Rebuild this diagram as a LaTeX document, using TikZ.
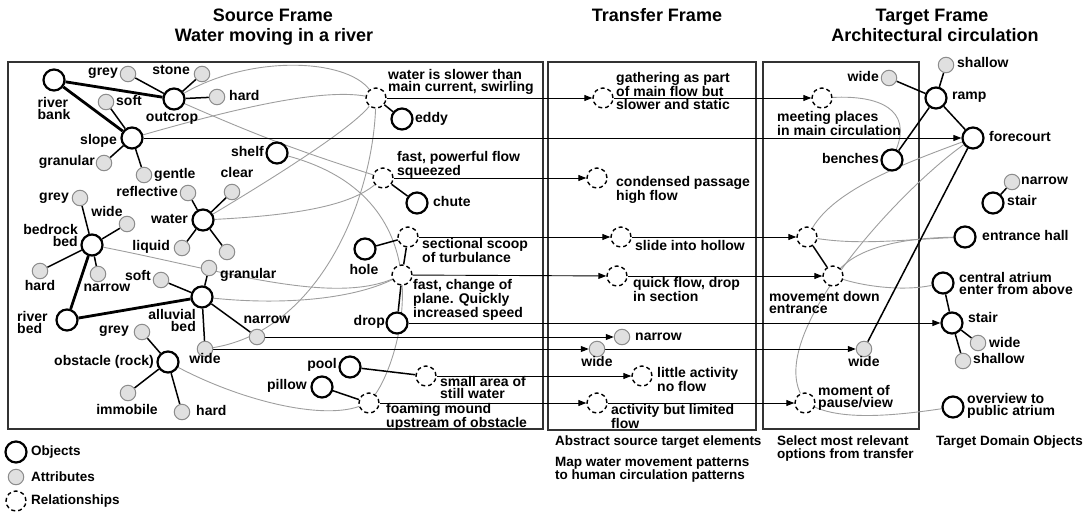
\documentclass[tikz,border=0pt]{standalone}
\usepackage{fontspec}
\setmainfont{Liberation Sans}
\usetikzlibrary{arrows.meta}
\pgfdeclarelayer{farback}
\pgfdeclarelayer{back}
\pgfsetlayers{farback,back,main}

\newcommand{\lblf}{\fontsize{14}{12.6}\selectfont\bfseries}
\newcommand{\titlef}{\fontsize{18}{20}\selectfont\bfseries}
\newcommand{\captf}{\fontsize{13.5}{12.6}\selectfont\bfseries}

\tikzset{
  obj/.style={circle, draw=black, line width=2.2pt, fill=white, minimum size=21pt, inner sep=0pt},
  attr/.style={circle, draw=black!45, line width=1pt, fill=black!12, minimum size=15.5pt, inner sep=0pt},
  rel/.style={circle, draw=black, line width=1.4pt, dash pattern=on 4pt off 3pt, fill=white, minimum size=20pt, inner sep=0pt},
  lbl/.style={font=\lblf, inner sep=0pt, text height=10pt, text depth=3pt},
  mlbl/.style={font=\lblf, inner sep=0pt, align=left},
  capt/.style={font=\captf, inner sep=0pt, align=left},
  ttl/.style={font=\titlef, inner sep=0pt, text height=13pt, text depth=4pt},
  strong/.style={line width=2.8pt, black},
  tie/.style={line width=1.5pt, black},
  assoc/.style={line width=0.9pt, black!38},
  flow/.style={line width=0.9pt, black, -{Triangle[length=8pt,width=6pt]}},
  framebox/.style={draw=black!80, line width=1.2pt}
}

\begin{document}
\begin{tikzpicture}[x=1pt,y=-1pt]
\useasboundingbox (0,0) rectangle (1083,514);

% ---------- titles
\node[ttl] (tsrc1) at (273,17) {Source Frame};
\node[ttl] (tsrc2) at (274,37) {Water moving in a river};
\node[ttl] (ttr) at (657,17) {Transfer Frame};
\node[ttl] (ttg1) at (932,17) {Target Frame};
\node[ttl] (ttg2) at (935,37) {Architectural circulation};

% ---------- source frame: objects, attributes, relationships
\node[obj] (riverbank) at (54,80) {};
\node[obj] (outcrop) at (174,99) {};
\node[attr] (ogrey) at (128,74) {};
\node[attr] (ostone) at (202,74) {};
\node[attr] (ohard) at (217,97) {};
\node[attr] (ssoft) at (106,102) {};
\node[obj] (slope) at (132,138) {};
\node[attr] (sgran) at (104,163) {};
\node[attr] (sgentle) at (144,175) {};
\node[obj] (shelf) at (277,153) {};
\node[obj] (water) at (203,220) {};
\node[attr] (wrefl) at (188,193) {};
\node[attr] (wclear) at (232,192) {};
\node[attr] (wliquid) at (182,248) {};
\node[attr] (wx) at (227,252) {};
\node[obj] (bedrock) at (92,245) {};
\node[attr] (bgrey) at (80,198) {};
\node[attr] (bwide) at (127,224) {};
\node[attr] (bhard) at (40,271) {};
\node[attr] (bnarrow) at (98,274) {};
\node[obj] (riverbed) at (67,320) {};
\node[obj] (alluvial) at (202,297) {};
\node[attr] (asoft) at (161,280) {};
\node[attr] (agran) at (209,268) {};
\node[attr] (anarrow) at (257,337) {};
\node[attr] (awide) at (205,349) {};
\node[obj] (obstacle) at (168,362) {};
\node[attr] (ogrey2) at (142,332) {};
\node[attr] (oimm) at (128,393) {};
\node[attr] (ohard2) at (182,412) {};
\node[obj] (pool) at (350,367) {};
\node[obj] (pillow) at (322,387) {};
\node[rel] (smallrel) at (426,376) {};
\node[rel] (foamrel) at (369,403) {};
\node[obj] (drop) at (397,323) {};
\node[obj] (hole) at (365,249) {};
\node[rel] (sectrel) at (408,237) {};
\node[rel] (fastchg) at (402,275) {};
\node[obj] (chute) at (417,203) {};
\node[rel] (fastpow) at (383,178) {};
\node[obj] (eddy) at (402,119) {};
\node[rel] (slower) at (376,98) {};

% source labels
\node[mlbl,anchor=north] (riverbankL) at (54,97) {river\\bank};
\node[lbl] (outcropL) at (172,118) {outcrop};
\node[lbl,anchor=east] (ogreyL) at (118,72) {grey};
\node[lbl,anchor=east] (ostoneL) at (190,71) {stone};
\node[lbl,anchor=west] (ohardL) at (229,97) {hard};
\node[lbl,anchor=west] (ssoftL) at (116,102) {soft};
\node[lbl,anchor=east] (slopeL) at (117,141) {slope};
\node[lbl,anchor=east] (sgranL) at (95,162) {granular};
\node[lbl,anchor=west] (sgentleL) at (154,175) {gentle};
\node[lbl,anchor=east] (shelfL) at (264,153) {shelf};
\node[lbl,anchor=east] (waterL) at (188,220) {water};
\node[lbl,anchor=east] (wreflL) at (178,193) {reflective};
\node[lbl] (wclearL) at (237,174) {clear};
\node[lbl,anchor=east] (wliquidL) at (170,247) {liquid};
\node[mlbl,anchor=north east,align=right] (bedrockL) at (78,224) {bedrock\\bed};
\node[lbl,anchor=east] (bgreyL) at (69,197) {grey};
\node[lbl] (bwideL) at (107,213) {wide};
\node[lbl] (bhardL) at (40,287) {hard};
\node[lbl] (bnarrowL) at (107,288) {narrow};
\node[mlbl,anchor=north west] (riverbedL) at (17,311) {river\\bed};
\node[mlbl,anchor=north east,align=right] (alluvialL) at (196,309) {alluvial\\bed};
\node[lbl,anchor=east] (asoftL) at (151,277) {soft};
\node[lbl,anchor=west] (agranL) at (220,275) {granular};
\node[lbl] (anarrowL) at (267,320) {narrow};
\node[lbl] (awideL) at (205,360) {wide};
\node[lbl,anchor=east] (obstacleL) at (154,362) {obstacle (rock)};
\node[lbl,anchor=east] (ogrey2L) at (129,330) {grey};
\node[lbl] (oimmL) at (127,411) {immobile};
\node[lbl,anchor=west] (ohard2L) at (196,412) {hard};
\node[lbl,anchor=east] (poolL) at (337,365) {pool};
\node[lbl,anchor=east] (pillowL) at (307,386) {pillow};
\node[mlbl,anchor=north west] (smallL) at (440,376) {small area of\\still water};
\node[mlbl,anchor=north west] (foamL) at (386,403) {foaming mound\\upstream of obstacle};
\node[lbl,anchor=east] (dropL) at (385,322) {drop};
\node[lbl] (holeL) at (364,271) {hole};
\node[mlbl,anchor=north west] (sectL) at (422,238) {sectional scoop\\of turbulance};
\node[mlbl,anchor=north west] (fastchgL) at (413,279) {fast, change of\\plane. Quickly\\increased speed};
\node[lbl,anchor=west] (chuteL) at (433,203) {chute};
\node[mlbl,anchor=north west] (fastpowL) at (397,151) {fast, powerful flow\\squeezed};
\node[lbl,anchor=west] (eddyL) at (415,119) {eddy};
\node[mlbl,anchor=north west] (slowerL) at (388,69) {water is slower than\\main current, swirling};

% ---------- transfer frame
\node[rel] (gather) at (603,98) {};
\node[rel] (condensed) at (597,178) {};
\node[rel] (slide) at (621,237) {};
\node[rel] (quick) at (617,276) {};
\node[attr] (tnarrow) at (622,337) {};
\node[attr] (twide) at (597,349) {};
\node[rel] (little) at (642,376) {};
\node[rel] (limited) at (597,403) {};

\node[mlbl,anchor=north west] (gatherL) at (616,72) {gathering as part\\of main flow but\\slower and static};
\node[mlbl,anchor=north west] (condL) at (616,176) {condensed passage\\high flow};
\node[lbl,anchor=west] (slideL) at (635,247) {slide into hollow};
\node[mlbl,anchor=north west] (quickL) at (633,277) {quick flow, drop\\in section};
\node[lbl,anchor=west] (tnarrowL) at (635,337) {narrow};
\node[lbl] (twideL) at (597,363) {wide};
\node[mlbl,anchor=north west] (littleL) at (657,367) {little activity\\no flow};
\node[mlbl,anchor=north west] (limitedL) at (611,404) {activity but limited\\flow};

% ---------- target frame
\node[rel] (meeting) at (822,98) {};
\node[attr] (rwide) at (889,78) {};
\node[attr] (rshallow) at (946,65) {};
\node[obj] (ramp) at (936,98) {};
\node[obj] (forecourt) at (973,138) {};
\node[obj] (benches) at (892,160) {};
\node[attr] (snarrow) at (1012,182) {};
\node[obj] (stair1) at (993,203) {};
\node[rel] (intohall) at (807,237) {};
\node[rel] (movement) at (833,276) {};
\node[obj] (entrance) at (965,237) {};
\node[obj] (central) at (943,283) {};
\node[obj] (stair2) at (952,323) {};
\node[attr] (s2wide) at (978,343) {};
\node[attr] (s2shallow) at (963,361) {};
\node[attr] (gwide) at (864,349) {};
\node[rel] (moment) at (805,403) {};
\node[obj] (overview) at (953,407) {};

\node[mlbl,anchor=north west] (meetL) at (777,111) {meeting places\\in main circulation};
\node[lbl,anchor=east] (rwideL) at (879,78) {wide};
\node[lbl,anchor=west] (rshallowL) at (957,64) {shallow};
\node[lbl,anchor=west] (rampL) at (952,96) {ramp};
\node[lbl,anchor=west] (forecourtL) at (989,138) {forecourt};
\node[lbl,anchor=east] (benchesL) at (879,160) {benches};
\node[lbl,anchor=west] (snarrowL) at (1021,181) {narrow};
\node[lbl,anchor=west] (stair1L) at (1007,202) {stair};
\node[mlbl,anchor=north west] (moveL) at (769,291) {movement down\\entrance};
\node[lbl,anchor=west] (entranceL) at (982,237) {entrance hall};
\node[mlbl,anchor=north west] (centralL) at (959,272) {central atrium\\enter from above};
\node[lbl,anchor=west] (stair2L) at (968,319) {stair};
\node[lbl,anchor=west] (s2wideL) at (989,344) {wide};
\node[lbl,anchor=west] (s2shallowL) at (973,360) {shallow};
\node[lbl] (gwideL) at (864,363) {wide};
\node[mlbl,anchor=north west] (momentL) at (818,385) {moment of\\pause/view};
\node[mlbl,anchor=north west] (overviewL) at (967,393) {overview to\\public atrium};

% ---------- captions and legend
\node[capt,anchor=north west] (capA) at (555,436) {Abstract source target elements};
\node[capt,anchor=north west] (capB) at (555,457) {Map water movement patterns\\to human circulation patterns};
\node[capt,anchor=north west] (capC) at (777,436) {Select most relevant\\options from transfer};
\node[capt,anchor=north west] (capD) at (936,436) {Target Domain Objects};

\node[obj] (legO) at (16,452) {};
\node[attr] (legA) at (16,477) {};
\node[rel] (legR) at (16,501) {};
\node[capt,anchor=west] (legOL) at (31,452) {Objects};
\node[capt,anchor=west] (legAL) at (31,477) {Attributes};
\node[capt,anchor=west] (legRL) at (31,501) {Relationships};

% ---------- frames and associations (grey)
\begin{pgfonlayer}{farback}
  \draw[framebox] (8,62) rectangle (543,429);
  \draw[framebox] (548,62) rectangle (756,430);
  \draw[framebox] (763,62) rectangle (919,429);

  \draw[assoc] (outcrop) .. controls (250,55) and (345,58) .. (slower);
  \draw[assoc] (slope) .. controls (230,110) and (320,88) .. (slower);
  \draw[assoc] (outcrop) to[bend right=3] (fastpow);
  \draw[assoc] (water) .. controls (270,180) and (350,130) .. (slower);
  \draw[assoc] (water) .. controls (300,215) and (350,205) .. (fastpow);
  \draw[assoc] (slower) .. controls (372,200) and (320,330) .. (awide);
  \draw[assoc] (shelf) .. controls (450,200) and (400,360) .. (foamrel);
  \draw[assoc] (obstacle) .. controls (240,400) and (320,420) .. (foamrel);
  \draw[assoc] (bedrock) .. controls (220,270) and (330,305) .. (fastchg);
  \draw[assoc] (alluvial) .. controls (280,305) and (350,300) .. (fastchg);

  \draw[assoc] (meeting) .. controls (880,95) and (912,110) .. (benches);
  \draw[assoc] (forecourt) .. controls (900,165) and (835,190) .. (intohall);
  \draw[assoc] (forecourt) .. controls (900,190) and (770,330) .. (moment);
  \draw[assoc] (entrance) .. controls (900,240) and (860,245) .. (intohall);
  \draw[assoc] (entrance) .. controls (900,238) and (860,248) .. (movement);
  \draw[assoc] (central) .. controls (900,292) and (860,285) .. (movement);
  \draw[assoc] (overview) .. controls (880,418) and (840,418) .. (moment);
\end{pgfonlayer}

% ---------- structure links and transfer arrows (black)
\begin{pgfonlayer}{back}
  \draw[strong] (riverbank) -- (outcrop);
  \draw[strong] (riverbank) -- (slope);
  \draw[strong] (bedrock) -- (riverbed);
  \draw[strong] (riverbed) -- (alluvial);

  \draw[tie] (outcrop) -- (ogrey);
  \draw[tie] (outcrop) -- (ostone);
  \draw[tie] (outcrop) -- (ohard);
  \draw[tie] (slope) -- (ssoft);
  \draw[tie] (slope) -- (sgran);
  \draw[tie] (slope) -- (sgentle);
  \draw[tie] (water) -- (wrefl);
  \draw[tie] (water) -- (wclear);
  \draw[tie] (water) -- (wliquid);
  \draw[tie] (water) -- (wx);
  \draw[tie] (bedrock) -- (bgrey);
  \draw[tie] (bedrock) -- (bwide);
  \draw[tie] (bedrock) -- (bhard);
  \draw[tie] (bedrock) -- (bnarrow);
  \draw[tie] (alluvial) -- (asoft);
  \draw[tie] (alluvial) -- (agran);
  \draw[tie] (alluvial) -- (anarrow);
  \draw[tie] (alluvial) -- (awide);
  \draw[tie] (obstacle) -- (ogrey2);
  \draw[tie] (obstacle) -- (oimm);
  \draw[tie] (obstacle) -- (ohard2);
  \draw[tie] (pool) -- (smallrel);
  \draw[tie] (pillow) -- (foamrel);
  \draw[tie] (drop) -- (fastchg);
  \draw[tie] (fastchg) -- (sectrel);
  \draw[tie] (hole) -- (sectrel);
  \draw[tie] (chute) -- (fastpow);
  \draw[tie] (eddy) -- (slower);

  \draw[tie] (ramp) -- (rwide);
  \draw[tie] (ramp) -- (rshallow);
  \draw[tie] (ramp) -- (forecourt);
  \draw[tie] (ramp) -- (benches);
  \draw[tie] (forecourt) -- (gwide);
  \draw[tie] (stair1) -- (snarrow);
  \draw[tie] (central) -- (stair2);
  \draw[tie] (stair2) -- (s2wide);
  \draw[tie] (stair2) -- (s2shallow);
  \draw[tie] (intohall) -- (movement);

  \draw[flow] (slower) -- (gather);
  \draw[flow] (gather) -- (meeting);
  \draw[flow] (slope) -- (forecourt);
  \draw[flow] (fastpow) -- (condensed);
  \draw[flow] (sectrel) -- (slide);
  \draw[flow] (slide) -- (intohall);
  \draw[flow] (fastchg) -- (quick);
  \draw[flow] (quick) -- (movement);
  \draw[flow] (drop) -- (stair2);
  \draw[flow] (anarrow) -- (tnarrow);
  \draw[flow] (awide) -- (twide);
  \draw[flow] (twide) -- (gwide);
  \draw[flow] (smallrel) -- (little);
  \draw[flow] (foamrel) -- (limited);
  \draw[flow] (limited) -- (moment);
\end{pgfonlayer}
\end{tikzpicture}
\end{document}
